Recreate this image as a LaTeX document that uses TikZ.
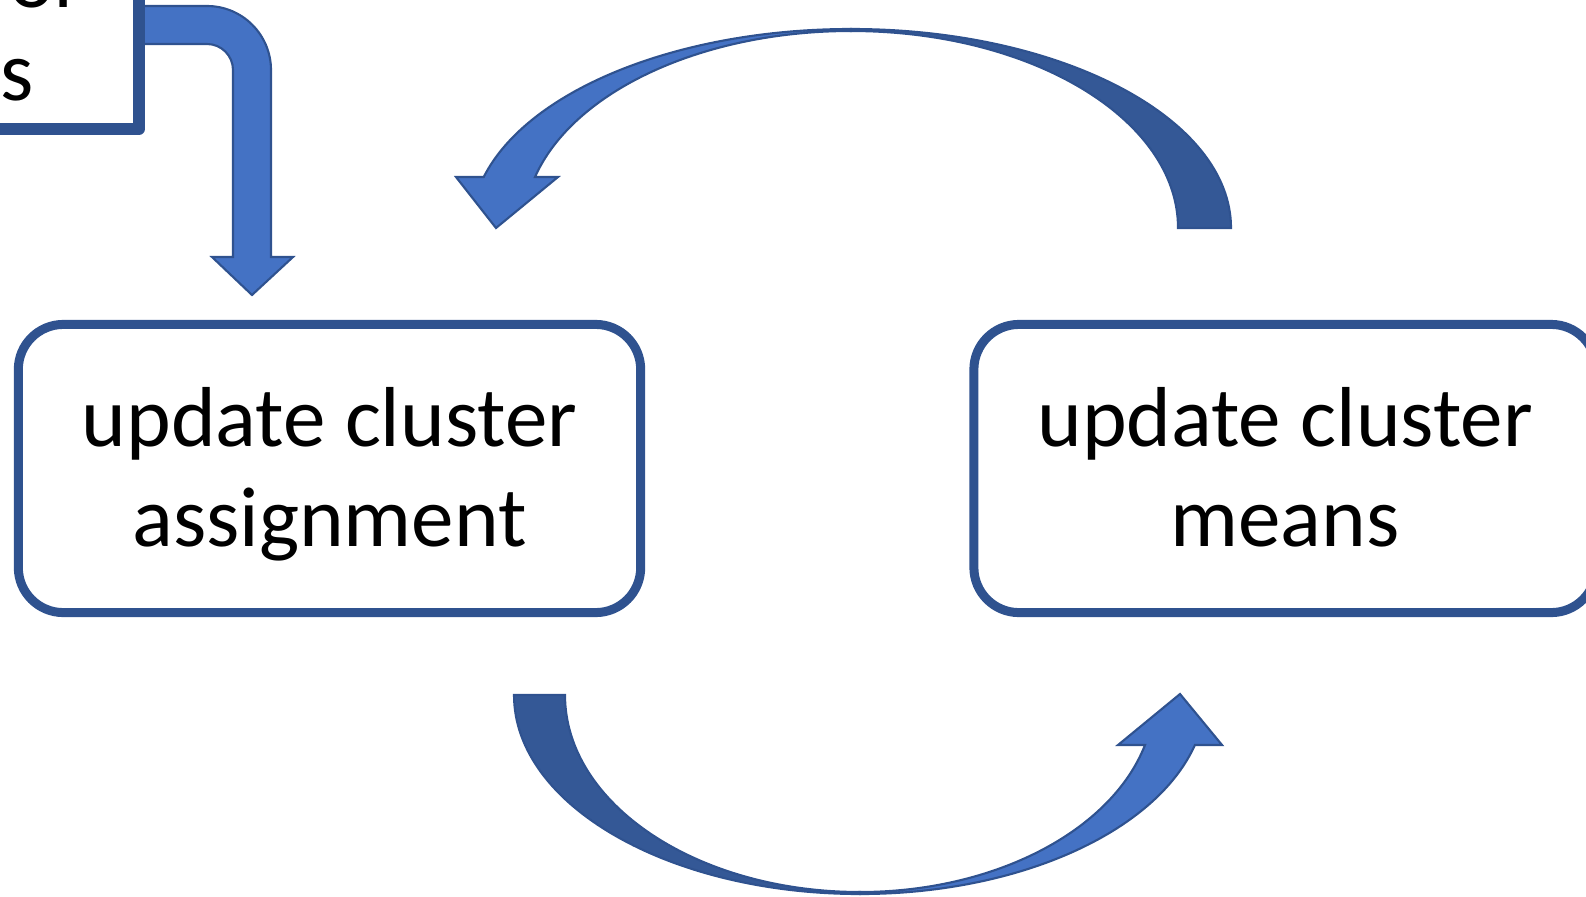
\documentclass[tikz,border=0pt]{standalone}
\usepackage{fontspec}
\setmainfont{Carlito}
\usepackage{tikz}
\usetikzlibrary{positioning}
\definecolor{KMBlue}{RGB}{68,114,196}
\definecolor{KMShade}{RGB}{52,88,150}
\definecolor{KMLine}{RGB}{47,82,143}
\newcommand{\tophold}{\rule{0pt}{0.8cm}}
\newcommand{\bothold}{\rule[-0.24cm]{0pt}{0.24cm}}

\begin{document}
\begin{tikzpicture}[x=0.01cm, y=0.01cm, font=\fontsize{24.2pt}{28.7pt}\selectfont]
\tikzstyle{stepbox}=[draw=KMLine, fill=white, line width=0.09cm, rounded corners=0.45cm, minimum width=6.22cm, minimum height=2.88cm, align=center]
\tikzstyle{blockarr}=[draw=KMLine, fill=KMBlue, line width=0.6pt, line join=miter]
\tikzstyle{blockback}=[blockarr, fill=KMShade]
\tikzstyle{cut}=[anchor=base east, inner sep=0pt]

\useasboundingbox (0,0) rectangle (1586,896);
\clip (0,0) rectangle (1586,896);

% bent arrow into the first box
\draw[blockarr] (135,890) -- (207,890) arc[start angle=90, end angle=0, radius=64] -- (271,639) -- (293,639) -- (252,601) -- (212,639) -- (233,639) -- (233,826) arc[start angle=0, end angle=90, radius=26] -- (135,852) -- cycle;

% init box, mostly off the page
\draw[draw=KMLine, fill=white, line width=0.12cm, line join=round] (-300,1100) rectangle (139,767);
\node[cut] (initA) at (85,888) {for};
\node[cut] (initB) at (34,796) {as};

\node[stepbox] (assign) at (329.5,427.5) {\tophold update cluster\\assignment\bothold};
\node[stepbox, right=3.24cm of assign] (means) {\tophold update cluster\\means\bothold};

% top loop: means back to assign
\draw[blockback] (1231,668) arc[start angle=0, end angle=90, x radius=380, y radius=199] -- (851,865) arc[start angle=90, end angle=0, x radius=327, y radius=197] -- cycle;
\draw[blockarr] (851,867) arc[start angle=90, end angle=165.15, x radius=380, y radius=199] -- (456,719) -- (496,668) -- (558,719) -- (535,719) arc[start angle=165, end angle=90, x radius=327, y radius=197] -- cycle;

% bottom loop: assign on to means
\draw[blockback] (514,201) arc[start angle=180, end angle=270, x radius=346, y radius=199] -- (860,4) arc[start angle=270, end angle=180, x radius=295, y radius=197] -- cycle;
\draw[blockarr] (860,2) arc[start angle=270, end angle=345.45, x radius=346, y radius=199] -- (1222,151) -- (1180,202) -- (1118,151) -- (1145,151) arc[start angle=345.3, end angle=270, x radius=295, y radius=197] -- cycle;
\end{tikzpicture}
\end{document}
